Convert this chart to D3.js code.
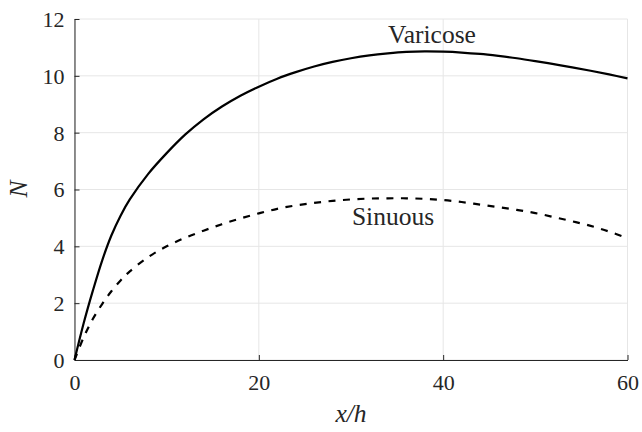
<!DOCTYPE html>
<html>
<head>
<meta charset="utf-8">
<script src="https://cdn.jsdelivr.net/npm/d3@7"></script>
<style>
  html, body { margin: 0; padding: 0; background: #fff; }
  svg { display: block; }
</style>
</head>
<body>
<script>
const xValues = [0,1,2,3,4,5,6,8,10,12,14,16,18,20,22,24,26,28,30,32,34,36,38,40,42,44,46,48,50,52,54,56,58,60];
const varicose = [0,1.3,2.45,3.5,4.38,5.08,5.65,6.55,7.28,7.93,8.47,8.92,9.3,9.62,9.9,10.13,10.33,10.49,10.62,10.72,10.79,10.84,10.86,10.85,10.82,10.77,10.7,10.62,10.52,10.41,10.3,10.18,10.05,9.91];
const sinuous = [0,0.8,1.45,1.97,2.42,2.8,3.12,3.62,4.0,4.3,4.55,4.78,4.98,5.16,5.32,5.44,5.53,5.6,5.65,5.68,5.69,5.69,5.67,5.63,5.56,5.47,5.38,5.28,5.17,5.03,4.88,4.72,4.52,4.28];
const xTicks = [0,20,40,60];
const yTicks = [0,2,4,6,8,10,12];
const seriesNames = ["Varicose","Sinuous"];

const FONT = "Liberation Serif";
const W = 642, H = 432;
const svg = d3.select("body").append("svg").attr("width", W).attr("height", H);

const x = d3.scaleLinear().domain([0,60]).range([74.5, 627.5]);
const y = d3.scaleLinear().domain([0,12]).range([360, 19]);

// grid
svg.append("g").selectAll("line").data(xTicks).join("line")
  .attr("x1", d => x(d)).attr("x2", d => x(d)).attr("y1", y(0)).attr("y2", y(12))
  .attr("stroke", "#e6e6e6").attr("stroke-width", 1);
svg.append("g").selectAll("line").data(yTicks).join("line")
  .attr("y1", d => y(d)).attr("y2", d => y(d)).attr("x1", x(0)).attr("x2", x(60))
  .attr("stroke", "#e6e6e6").attr("stroke-width", 1);

// axes
const xAxis = d3.axisBottom(x).tickValues(xTicks).tickSizeInner(-5).tickSizeOuter(0).tickPadding(14);
const yAxis = d3.axisLeft(y).tickValues(yTicks).tickSizeInner(-5).tickSizeOuter(0).tickPadding(10);

const gx = svg.append("g").attr("transform", `translate(0,${y(0)})`).call(xAxis);
const gy = svg.append("g").attr("transform", `translate(${x(0)},0)`).call(yAxis);
[gx, gy].forEach(g => {
  g.attr("font-family", FONT).attr("font-size", 22);
  g.select(".domain").attr("stroke", "#262626").attr("stroke-width", 1);
  g.selectAll(".tick line").attr("stroke", "#262626");
  g.selectAll(".tick text").attr("font-family", FONT).attr("font-size", 22).attr("fill", "#262626");
});
gx.selectAll(".tick text").attr("dy", "0.71em");
gy.selectAll(".tick text").attr("dy", "0.34em");

// lines
const line = arr => d3.line().x((d,i) => x(xValues[i])).y(d => y(d)).curve(d3.curveCatmullRom.alpha(0.5))(arr);
svg.append("path").attr("d", line(varicose)).attr("fill", "none")
  .attr("stroke", "#000").attr("stroke-width", 2.2);
svg.append("path").attr("d", line(sinuous)).attr("fill", "none")
  .attr("stroke", "#000").attr("stroke-width", 2.2).attr("stroke-dasharray", "7,7.5");

// annotations
const label = (tx, ty, txt, italic) => svg.append("text").attr("x", tx).attr("y", ty)
  .attr("text-anchor", "middle").attr("fill", "#262626")
  .attr("font-family", FONT).attr("font-size", 25.5)
  .attr("font-style", italic ? "italic" : "normal").text(txt);
label(432, 43, seriesNames[0], false);
label(393, 225, seriesNames[1], false);
label(351, 422, "x/h", true);
svg.append("text").attr("transform", "translate(27,189) rotate(-90)").attr("text-anchor", "middle")
  .attr("fill", "#262626").attr("font-family", FONT).attr("font-size", 25.5)
  .attr("font-style", "italic").text("N");
</script>
</body>
</html>
